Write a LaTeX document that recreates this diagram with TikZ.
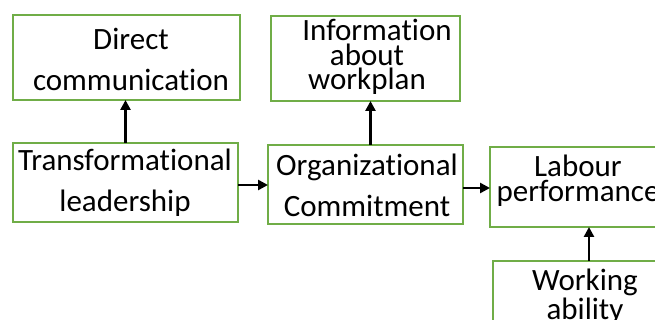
\documentclass[tikz,border=0pt]{standalone}
\usepackage{fontspec}
\setmainfont{Carlito}[Ligatures=NoCommon]
\usetikzlibrary{arrows.meta}
\definecolor{boxgreen}{HTML}{70AD47}
\begin{document}
\begin{tikzpicture}[x=0.5pt,y=-0.5pt,
  box/.style={draw=boxgreen,line width=1pt,inner sep=0pt,outer sep=0pt,rectangle},
  txt/.style={align=center,inner sep=0pt,font=\fontsize{15.5}{20.5}\selectfont},
  tight/.style={font=\fontsize{15.5}{12.4}\selectfont},
  arr/.style={-{Triangle[length=5pt,width=5pt]},line width=1.25pt,black}]
\useasboundingbox (0,0) rectangle (655,320);
\clip (0,0) rectangle (655,320);
\node[box,minimum width=113.5pt,minimum height=42.5pt] (dc) at (126.5,57.5) {};
\node[txt] (dct) at (131,59) {Direct\\communication};
\node[box,minimum width=112.5pt,minimum height=39.5pt] (tl) at (125.5,182.5) {};
\node[txt] (tlt) at (125,183) {Transformational\\leadership};
\node[box,minimum width=94.5pt,minimum height=42.5pt] (ip) at (365.5,58.5) {};
\node[txt,tight] (ipt) at (367,57) {\hspace*{10pt}Information\\about\\workplan};
\node[box,minimum width=97.5pt,minimum height=39.5pt] (oc) at (365.5,184.5) {};
\node[txt] (oct) at (367,185) {Organizational\\Commitment};
\node[box,minimum width=99pt,minimum height=40pt] (lp) at (589,187) {};
\node[txt,tight] (lpt) at (578,181) {Labour\\performance};
\node[box,minimum width=96pt,minimum height=42pt] (wa) at (589,303) {};
\node[txt,tight] (wat) at (585,297) {Working\\ability};
\draw[arr] (tl.north) -- (tl.north |- dc.south);
\draw[arr] ([xshift=2.5pt]oc.north) -- ([xshift=2.5pt]oc.north |- ip.south);
\draw[arr] ([yshift=-1.25pt]tl.east) -- ([yshift=-1.25pt]tl.east -| oc.west);
\draw[arr] ([yshift=-1.75pt]oc.east) -- ([yshift=-1.75pt]oc.east -| lp.west);
\draw[arr] (wa.north) -- (lp.south);
\end{tikzpicture}
\end{document}
